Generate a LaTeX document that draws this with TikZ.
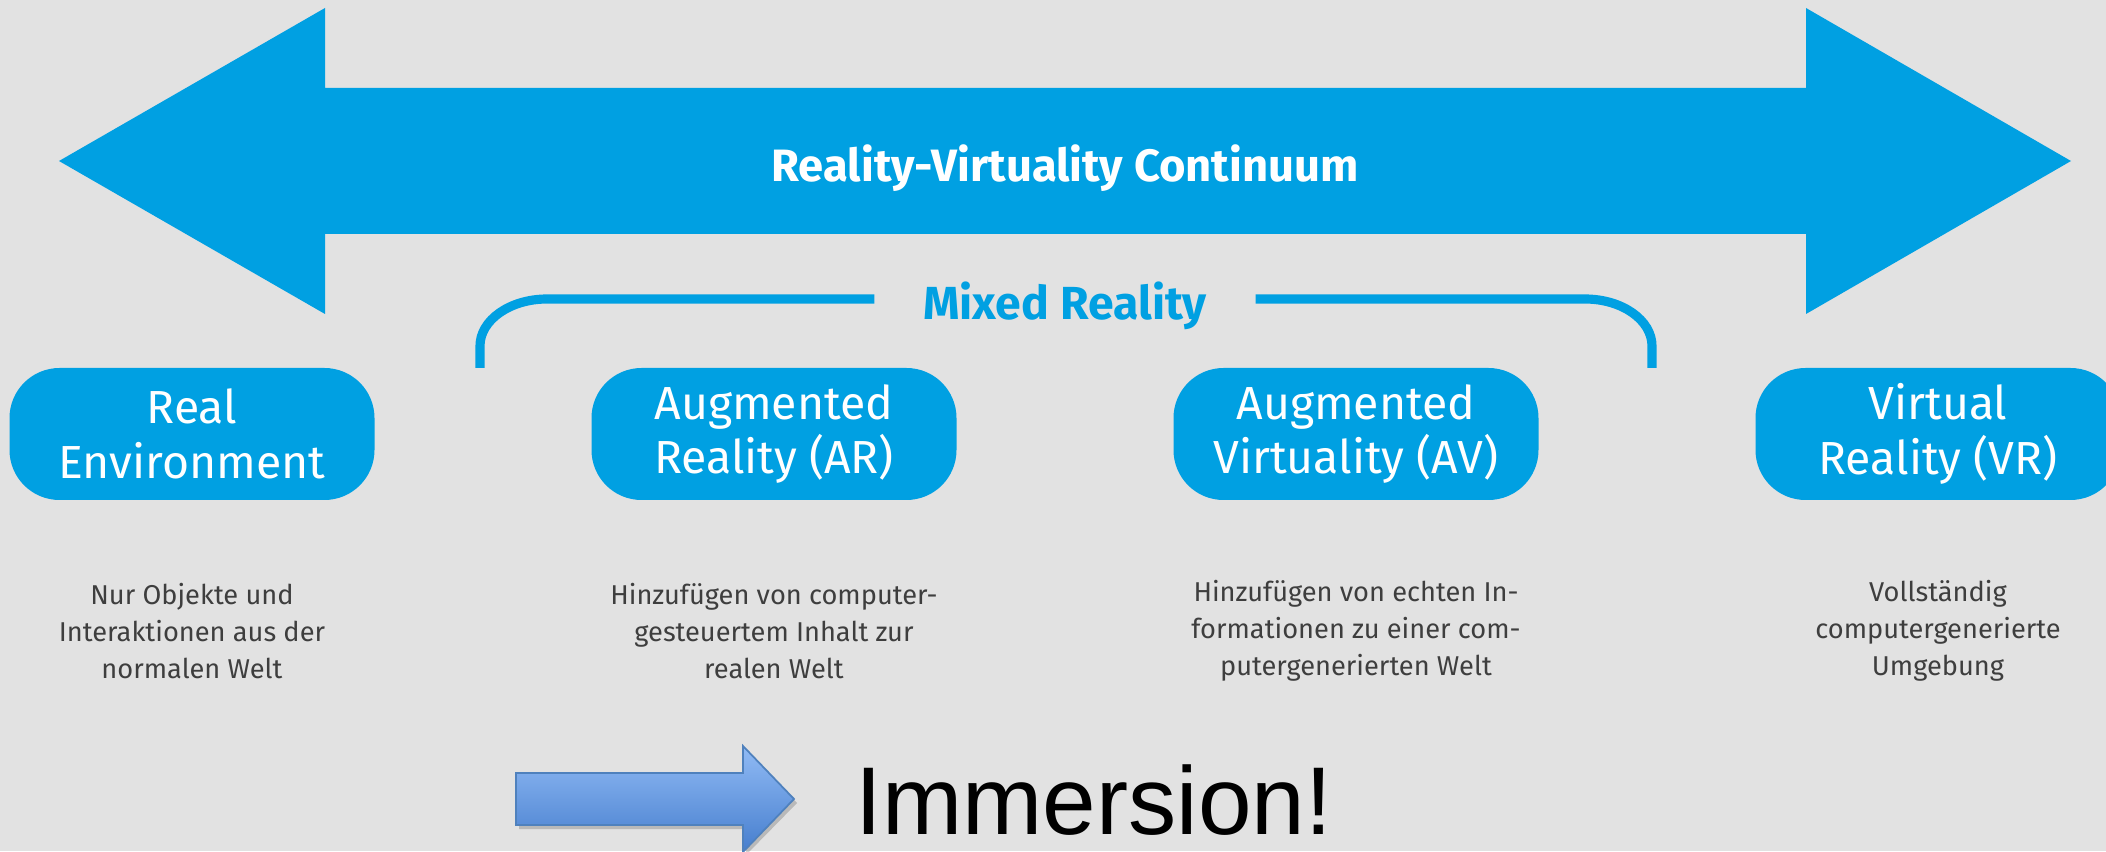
\documentclass[tikz,border=0pt]{standalone}
\usepackage{fontspec}
\setmainfont{Fira Sans}
\newfontfamily\arialfont{Liberation Sans}

\definecolor{mrblue}{RGB}{0,160,226}
\definecolor{bggray}{RGB}{226,226,226}
\definecolor{notegray}{RGB}{62,62,62}
\definecolor{arrowtop}{RGB}{145,187,245}
\definecolor{arrowbot}{RGB}{70,126,206}
\definecolor{arrowline}{RGB}{79,129,189}

\tikzset{
  stage/.style={fill=mrblue, text=white, rounded corners=0.5cm, minimum width=3.65cm,
    minimum height=1.32cm, inner sep=0pt, align=center,
    font=\fontsize{13.2}{15.6}\selectfont},
  note/.style={text=notegray, align=center, inner sep=0pt,
    font=\fontsize{7.75}{10.6}\selectfont},
  bracket/.style={draw=mrblue, line width=2.6pt}
}

\begin{document}
\begin{tikzpicture}
    \useasboundingbox (0,0) rectangle (21.06,8.51);
    \clip (0,0) rectangle (21.06,8.51);
    \fill[bggray] (0,0) rectangle (21.06,8.51);

    % the continuum: one wide double-headed arrow
    \fill[mrblue] (0.59,6.90) -- (3.25,8.43) -- (3.25,7.63) -- (18.06,7.63) -- (18.06,8.43)
        -- (20.71,6.90) -- (18.06,5.37) -- (18.06,6.17) -- (3.25,6.17) -- (3.25,5.37) -- cycle;
    \node[text=white, text depth=0pt, font=\bfseries\fontsize{12.9}{15}\selectfont] (continuum) at (10.65,6.88) {Reality-Virtuality Continuum};

    % mixed reality bracket
    \node[text=mrblue, text depth=0pt, inner xsep=0.48cm, font=\bfseries\fontsize{13.2}{15}\selectfont] (mixed) at (10.65,5.50) {Mixed Reality};
    \coordinate (mrleft) at (4.80,4.83);
    \coordinate (mrright) at (16.52,4.83);
    \draw[bracket] (mrleft) -- (4.80,5.05) arc[start angle=180, end angle=90, x radius=0.67, y radius=0.47] -- (mixed.west |- 0,5.52);
    \draw[bracket] (mixed.east |- 0,5.52) -- (15.85,5.52) arc[start angle=90, end angle=0, x radius=0.67, y radius=0.47] -- (mrright);

    % the four stages
    \node[stage] (real) at (1.92,4.17) {Real\\Environment};
    \node[stage] (ar) at (7.74,4.17) {Augmented\\Reality (AR)};
    \node[stage] (av) at (13.56,4.17) {Augmented\\Virtuality (AV)};
    \node[stage] (vr) at (19.38,4.17) {Virtual\\Reality (VR)};

    \node[note] (realnote) at (1.92,2.20) {Nur Objekte und\\Interaktionen aus der\\normalen Welt};
    \node[note] (arnote) at (7.74,2.20) {Hinzufügen von computer-\\gesteuertem Inhalt zur\\realen Welt};
    \node[note] (avnote) at (13.56,2.20) {Hinzufügen von echten In-\\formationen zu einer com-\\putergenerierten Welt};
    \node[note] (vrnote) at (19.38,2.20) {Vollständig\\computergenerierte\\Umgebung};

    % immersion arrow
    \fill[black, opacity=0.18] (5.19,0.74) -- (7.46,0.74) -- (7.46,1.01) -- (7.97,0.48) -- (7.46,-0.04) -- (7.46,0.22) -- (5.19,0.22) -- cycle;
    \shade[top color=arrowtop, bottom color=arrowbot, draw=arrowline, line width=0.5pt]
        (5.16,0.78) -- (7.43,0.78) -- (7.43,1.05) -- (7.94,0.52) -- (7.43,-0.01) -- (7.43,0.26) -- (5.16,0.26) -- cycle;
    \node[anchor=base west, inner sep=0pt, font=\arialfont\fontsize{27.4}{30}\selectfont] (immersion) at (8.55,0.16) {Immersion!};
\end{tikzpicture}
\end{document}
